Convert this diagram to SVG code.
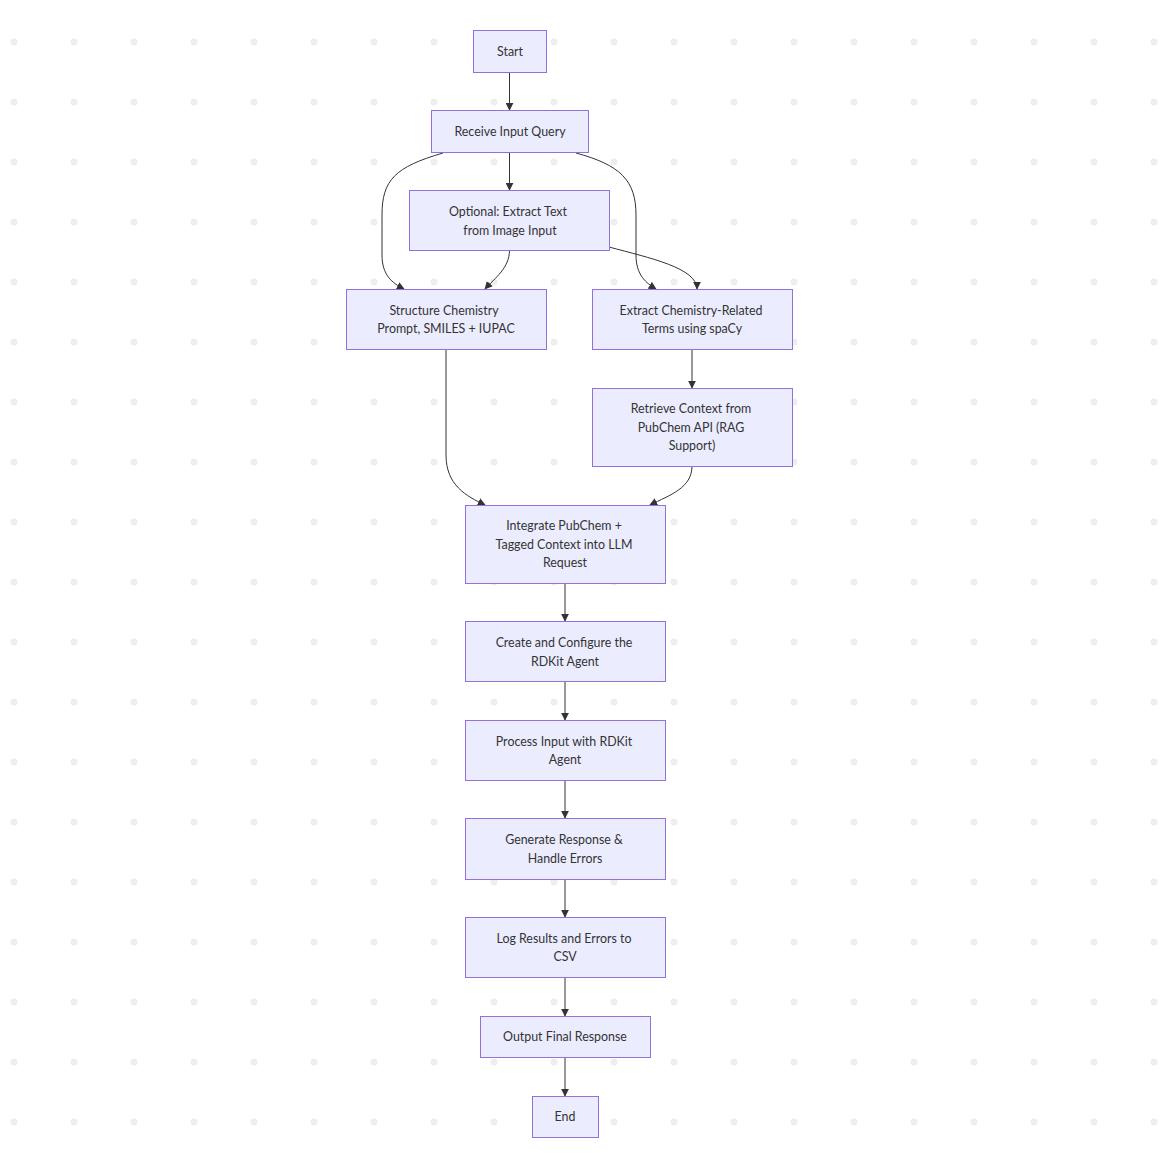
<svg xmlns="http://www.w3.org/2000/svg" width="1174" height="1176" viewBox="0 0 1174 1176">
<style>
.n rect{fill:#ECECFF;stroke:#9370DB;stroke-width:1}
.n text{font-family:Lato,"Liberation Sans",Arial,sans-serif;font-size:12.4px;fill:#333;text-anchor:middle}
.e path{fill:none;stroke:#333;stroke-width:1;marker-end:url(#ah)}
</style>
<defs>
<pattern id="dots" x="0" y="0" width="60" height="60" patternUnits="userSpaceOnUse">
<circle cx="14" cy="42" r="3.6" fill="#eeeeee"/>
</pattern>
<marker id="ah" viewBox="0 0 10 10" refX="9" refY="5" markerWidth="8" markerHeight="8" orient="auto" markerUnits="userSpaceOnUse">
<path d="M0,0 L10,5 L0,10 z" fill="#333"/>
</marker>
</defs>
<rect width="1174" height="1176" fill="#fff"/>
<rect width="1174" height="1176" fill="url(#dots)"/>
<g class="e" id="edges">
<path d="M509.5,72 L509.5,110"/>
<path d="M509.5,152 L509.5,190"/>
<path d="M443,153 C395,167 382,180 382,215 L382,255 C382,275 392,283 404,289"/>
<path d="M509.5,250 C509.5,268 495,278 485,289"/>
<path d="M576,153 C620,165 636,180 636,215 L636,255 C636,275 646,283 656,289"/>
<path d="M609,247 C650,258 697,268 697,289"/>
<path d="M446,349 L446,455 C446,485 466,496 485,505"/>
<path d="M692,349 L692,388"/>
<path d="M692,466 C692,488 670,495 650,505"/>
<path d="M565,583 L565,621"/>
<path d="M565,681 L565,720"/>
<path d="M565,780 L565,818"/>
<path d="M565,879 L565,917"/>
<path d="M565,977 L565,1016"/>
<path d="M565,1057 L565,1096"/>
</g>
<g class="n" id="start"><rect x="473.5" y="30.5" width="73" height="42"/><text x="510" y="56">Start</text></g>
<g class="n" id="receive"><rect x="431.5" y="110.5" width="157" height="42"/><text x="510" y="136">Receive Input Query</text></g>
<g class="n" id="optional"><rect x="409.5" y="190.5" width="200" height="60"/><text x="508" y="216">Optional: Extract Text</text><text x="510" y="234.5">from Image Input</text></g>
<g class="n" id="structure"><rect x="346.5" y="289.5" width="200" height="60"/><text x="444" y="314.5">Structure Chemistry</text><text x="446" y="333">Prompt, SMILES + IUPAC</text></g>
<g class="n" id="extract"><rect x="592.5" y="289.5" width="200" height="60"/><text x="691" y="314.5">Extract Chemistry-Related</text><text x="692" y="333">Terms using spaCy</text></g>
<g class="n" id="retrieve"><rect x="592.5" y="388.5" width="200" height="78"/><text x="691" y="413">Retrieve Context from</text><text x="691" y="431.5">PubChem API (RAG</text><text x="692" y="450">Support)</text></g>
<g class="n" id="integrate"><rect x="465.5" y="505.5" width="200" height="78"/><text x="564" y="530">Integrate PubChem +</text><text x="564" y="548.5">Tagged Context into LLM</text><text x="565" y="567">Request</text></g>
<g class="n" id="create"><rect x="465.5" y="621.5" width="200" height="60"/><text x="564" y="647">Create and Configure the</text><text x="565" y="665.5">RDKit Agent</text></g>
<g class="n" id="process"><rect x="465.5" y="720.5" width="200" height="60"/><text x="564" y="745.5">Process Input with RDKit</text><text x="565" y="764">Agent</text></g>
<g class="n" id="generate"><rect x="465.5" y="818.5" width="200" height="61"/><text x="564" y="844">Generate Response &amp;</text><text x="565" y="862.5">Handle Errors</text></g>
<g class="n" id="log"><rect x="465.5" y="917.5" width="200" height="60"/><text x="564" y="942.5">Log Results and Errors to</text><text x="565" y="961">CSV</text></g>
<g class="n" id="output"><rect x="480.5" y="1016.5" width="170" height="41"/><text x="565" y="1041">Output Final Response</text></g>
<g class="n" id="end"><rect x="532.5" y="1096.5" width="66" height="41"/><text x="565" y="1121">End</text></g>
</svg>
